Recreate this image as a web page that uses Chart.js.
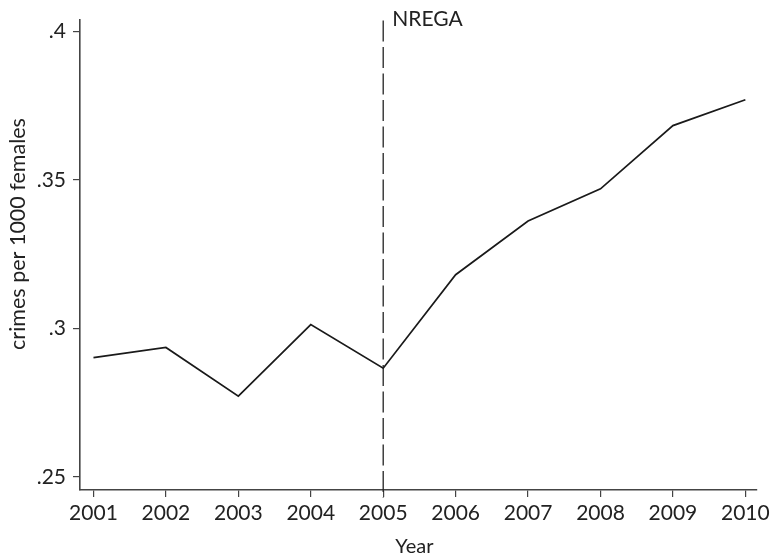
<!DOCTYPE html>
<html>
<head>
<meta charset="utf-8">
<script src="https://cdn.jsdelivr.net/npm/chart.js@4/dist/chart.umd.min.js"></script>
<style>
  html, body { margin: 0; padding: 0; background: #fff; }
  #wrap { width: 774px; height: 557px; position: relative; }
</style>
</head>
<body>
<div id="wrap"><canvas id="c"></canvas></div>
<script>
// Crimes against women per 1000 females, by year
const years = [2001, 2002, 2003, 2004, 2005, 2006, 2007, 2008, 2009, 2010];
const crimeRate = [0.2902, 0.2936, 0.2772, 0.3013, 0.2866, 0.3181, 0.3362, 0.3470, 0.3683, 0.3770];
const yTickValues = [0.25, 0.30, 0.35, 0.40];
const policyYear = 2005;
const policyLabel = 'NREGA';
const xTitle = 'Year';
const yTitle = 'crimes per 1000 females';

const FONT = 'Lato, "DejaVu Sans", sans-serif';
const INK = '#222222';
const AXIS = '#444444';

// Vertical dashed marker, its label and the axis titles
const annotations = {
  id: 'annotations',
  afterDatasetsDraw(chart) {
    const { ctx, chartArea, scales } = chart;
    const x = scales.x.getPixelForValue(policyYear);
    ctx.save();
    ctx.strokeStyle = INK;
    ctx.lineWidth = 1.3;
    ctx.setLineDash([21, 5.5]);
    ctx.beginPath();
    ctx.moveTo(x, chartArea.top + 1);
    ctx.lineTo(x, chartArea.bottom + 8);
    ctx.stroke();
    ctx.setLineDash([]);

    ctx.fillStyle = INK;
    ctx.font = '21px ' + FONT;
    ctx.textBaseline = 'middle';
    ctx.textAlign = 'left';
    ctx.fillText(policyLabel, x + 9, 19);

    ctx.font = '20px ' + FONT;
    ctx.textAlign = 'center';
    ctx.fillText(xTitle, (chartArea.left + chartArea.right) / 2 - 4, 547);

    ctx.font = '21.5px ' + FONT;
    ctx.translate(18, 234);
    ctx.rotate(-Math.PI / 2);
    ctx.fillText(yTitle, 0, 0);
    ctx.restore();
  }
};

new Chart(document.getElementById('c'), {
  type: 'line',
  data: {
    datasets: [{
      data: years.map((y, i) => ({ x: y, y: crimeRate[i] })),
      borderColor: '#1a1a1a',
      borderWidth: 1.7,
      pointRadius: 0,
      tension: 0,
      fill: false
    }]
  },
  options: {
    responsive: true,
    maintainAspectRatio: false,
    animation: false,
    devicePixelRatio: 1,
    layout: { padding: { top: 11, right: 16, left: 0, bottom: 0 } },
    plugins: { legend: { display: false }, tooltip: { enabled: false } },
    scales: {
      x: {
        type: 'linear',
        min: 2000.814,
        max: 2010.158,
        afterBuildTicks: s => { s.ticks = years.map(v => ({ value: v })); },
        afterFit: s => { s.height = 67; },
        ticks: {
          autoSkip: false,
          maxRotation: 0,
          padding: 4,
          color: INK,
          font: { family: FONT, size: 21 },
          callback: v => String(v)
        },
        grid: { drawOnChartArea: false, drawTicks: true, tickLength: 7, color: AXIS, lineWidth: 1.2 },
        border: { display: true, color: AXIS, width: 1.6 }
      },
      y: {
        type: 'linear',
        min: 0.2456,
        max: 0.404,
        afterBuildTicks: s => { s.ticks = yTickValues.map(v => ({ value: v })); },
        afterFit: s => { s.width = 80; },
        ticks: {
          padding: 7,
          color: INK,
          font: { family: FONT, size: 21 },
          callback: v => String(Math.round(v * 100) / 100).replace(/^0/, '')
        },
        grid: { drawOnChartArea: false, drawTicks: true, tickLength: 7, color: AXIS, lineWidth: 1.2 },
        border: { display: true, color: AXIS, width: 1.6 }
      }
    }
  },
  plugins: [annotations]
});
</script>
</body>
</html>
